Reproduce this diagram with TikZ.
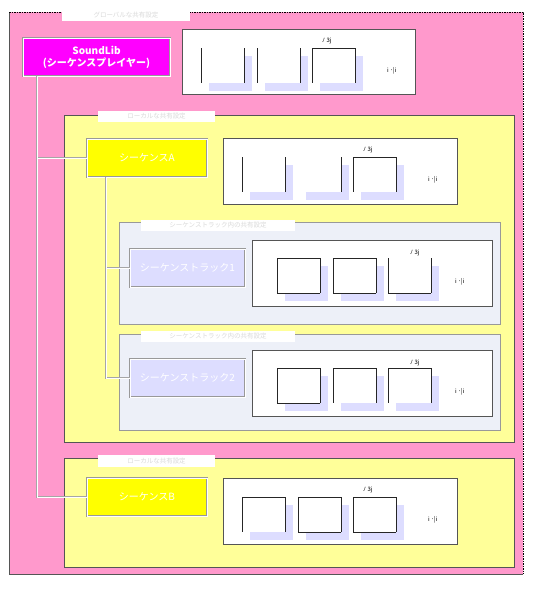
\documentclass[tikz,border=0pt]{standalone}
\usepackage{fontspec}
\setmainfont{Noto Sans CJK JP}
\definecolor{pinkbg}{HTML}{FF99CC}
\definecolor{paleyellow}{HTML}{FFFF99}
\definecolor{trackbg}{HTML}{EDF0F8}
\definecolor{lav}{HTML}{DDDDFF}
\definecolor{magentabox}{HTML}{FF00FF}
\definecolor{yellowbox}{HTML}{FFFF00}
\definecolor{edge}{HTML}{555555}
\tikzset{
  rectnode/.style={rectangle, inner sep=0pt, outer sep=0pt},
  container/.style={rectnode, draw=edge, line width=0.8pt},
  tabbox/.style={rectnode, fill=white, font=\fontsize{6.5}{7}\selectfont, text=gray!30},
  objbox/.style={rectnode, draw=gray!80, double=white, double distance=0.8pt, line width=0.5pt,
    text=white, font=\fontsize{10}{12}\selectfont, align=center},
  screen/.style={rectnode, draw=edge, fill=white, line width=0.9pt},
  sqline/.style={draw=black!85, line width=0.8pt},
  conn/.style={draw=gray!70, line width=2pt},
  connw/.style={draw=white, line width=0.9pt},
  tinytext/.style={font=\fontsize{6}{6}\selectfont, inner sep=0pt}
}
% shadow + white face of one square, local coordinates
\newcommand\sqface[2]{%
  \fill[lav] (#1+8,#2+8) rectangle ++(43,35);
  \fill[white] (#1,#2) rectangle ++(43,35);}
\newcommand\sqT[2]{\draw[sqline] (#1,#2) -- ++(43,0);}
\newcommand\sqL[2]{\draw[sqline] (#1,#2) -- ++(0,35);}
\newcommand\sqR[2]{\draw[sqline] (#1+43,#2) -- ++(0,35);}
\newcommand\sqB[2]{\draw[sqline] (#1,#2+35) -- ++(43,0);}
\newcommand\scrtext[4]{%
  \node[tinytext, anchor=west] at (#1,#2) {ﾉ 3j};
  \node[tinytext, anchor=west] at (#3,#4) {i ･|i};}
\begin{document}
\begin{tikzpicture}[x=1pt,y=-1pt]
\useasboundingbox (0,0) rectangle (534,590);
\fill[white] (0,0) rectangle (534,590);
% outer global area
\node[rectnode, fill=pinkbg, minimum width=514pt, minimum height=562pt] (glob) at (266,293) {};
\draw[edge, line width=0.9pt] (glob.north west) -- (glob.south west) -- (glob.south east);
\draw[black, dashed, dash pattern=on 1.5pt off 1pt, line width=0.8pt] (glob.north west) -- (glob.north east) -- (glob.south east);
\node[tabbox, minimum width=128pt, minimum height=12pt] (globtab) at (126,15) {グローバルな共有設定};
% SoundLib
\node[objbox, fill=magentabox, minimum width=147pt, minimum height=38pt, font=\bfseries\fontsize{10}{12}\selectfont] (sl) at (96.5,57) {SoundLib\\(シーケンスプレイヤー)};
% top screen
\node[screen, minimum width=233pt, minimum height=65pt] (scr0) at (298.5,61.5) {};
\begin{scope}[shift={(scr0.north west)}]
  \sqface{19}{19}\sqface{75}{19}\sqface{130}{19}
  \sqL{19}{19}\sqR{19}{19}
  \sqL{75}{19}\sqR{75}{19}
  \sqT{130}{19}\sqL{130}{19}\sqR{130}{19}
  \scrtext{140}{12}{205}{42}
\end{scope}
% sequence A
\node[container, fill=paleyellow, minimum width=450pt, minimum height=327pt] (seqA) at (289,278.5) {};
\node[tabbox, minimum width=117pt, minimum height=11pt] (seqAtab) at (156.5,116.5) {ローカルな共有設定};
\node[objbox, fill=yellowbox, minimum width=120pt, minimum height=38pt] (sa) at (147,158) {シーケンスA};
\node[screen, minimum width=234pt, minimum height=66pt] (scrA) at (340,171) {};
\begin{scope}[shift={(scrA.north west)}]
  \sqface{19}{19}\sqface{75}{19}\sqface{130}{19}
  \sqL{19}{19}\sqR{19}{19}
  \sqR{75}{19}
  \sqT{130}{19}\sqL{130}{19}\sqR{130}{19}
  \scrtext{140}{12}{205}{42}
\end{scope}
% track 1
\node[container, fill=trackbg, draw=gray!80, minimum width=381pt, minimum height=102pt] (tr1) at (309.5,273) {};
\node[tabbox, minimum width=154pt, minimum height=11pt] (tr1tab) at (218,225.5) {シーケンストラック内の共有設定};
\node[objbox, fill=lav, minimum width=115pt, minimum height=38pt] (t1) at (187.5,268) {シーケンストラック1};
\node[screen, minimum width=240pt, minimum height=66pt] (scr1) at (372,273) {};
\begin{scope}[shift={(scr1.north west)}]
  \sqface{25}{18}\sqface{81}{18}\sqface{136}{18}
  \sqT{25}{18}\sqL{25}{18}\sqR{25}{18}\sqB{25}{18}
  \sqT{81}{18}\sqL{81}{18}\sqR{81}{18}\sqB{81}{18}
  \sqL{136}{18}\sqR{136}{18}\sqB{136}{18}
  \scrtext{158}{13}{203}{42}
\end{scope}
% track 2
\node[container, fill=trackbg, draw=gray!80, minimum width=381pt, minimum height=96pt] (tr2) at (309.5,382) {};
\node[tabbox, minimum width=154pt, minimum height=11pt] (tr2tab) at (218,336.5) {シーケンストラック内の共有設定};
\node[objbox, fill=lav, minimum width=115pt, minimum height=38pt] (t2) at (187.5,378) {シーケンストラック2};
\node[screen, minimum width=240pt, minimum height=66pt] (scr2) at (372,383) {};
\begin{scope}[shift={(scr2.north west)}]
  \sqface{25}{18}\sqface{81}{18}\sqface{136}{18}
  \sqT{25}{18}\sqL{25}{18}\sqR{25}{18}\sqB{25}{18}
  \sqT{81}{18}\sqL{81}{18}\sqR{81}{18}
  \sqT{136}{18}\sqL{136}{18}\sqR{136}{18}
  \scrtext{158}{13}{203}{42}
\end{scope}
% sequence B
\node[container, fill=paleyellow, minimum width=450pt, minimum height=109pt] (seqB) at (289,512.5) {};
\node[tabbox, minimum width=117pt, minimum height=12pt] (seqBtab) at (156.5,461) {ローカルな共有設定};
\node[objbox, fill=yellowbox, minimum width=120pt, minimum height=38pt] (sb) at (147,497) {シーケンスB};
\node[screen, minimum width=234pt, minimum height=66pt] (scrB) at (340,511) {};
\begin{scope}[shift={(scrB.north west)}]
  \sqface{19}{19}\sqface{75}{19}\sqface{130}{19}
  \sqT{19}{19}\sqL{19}{19}\sqR{19}{19}
  \sqT{75}{19}\sqL{75}{19}\sqR{75}{19}\sqB{75}{19}
  \sqT{130}{19}\sqL{130}{19}\sqR{130}{19}\sqB{130}{19}
  \scrtext{140}{12}{205}{42}
\end{scope}
% connectors
\coordinate (slfoot) at ([xshift=14pt]sl.south west);
\coordinate (safoot) at ([xshift=19pt]sa.south west);
\foreach \s in {conn,connw}{
  \draw[\s] (slfoot) |- (sa.west);
  \draw[\s] (slfoot) |- (sb.west);
  \draw[\s] (safoot) |- (t1.west);
  \draw[\s] (safoot) |- (t2.west);
}
\end{tikzpicture}
\end{document}
